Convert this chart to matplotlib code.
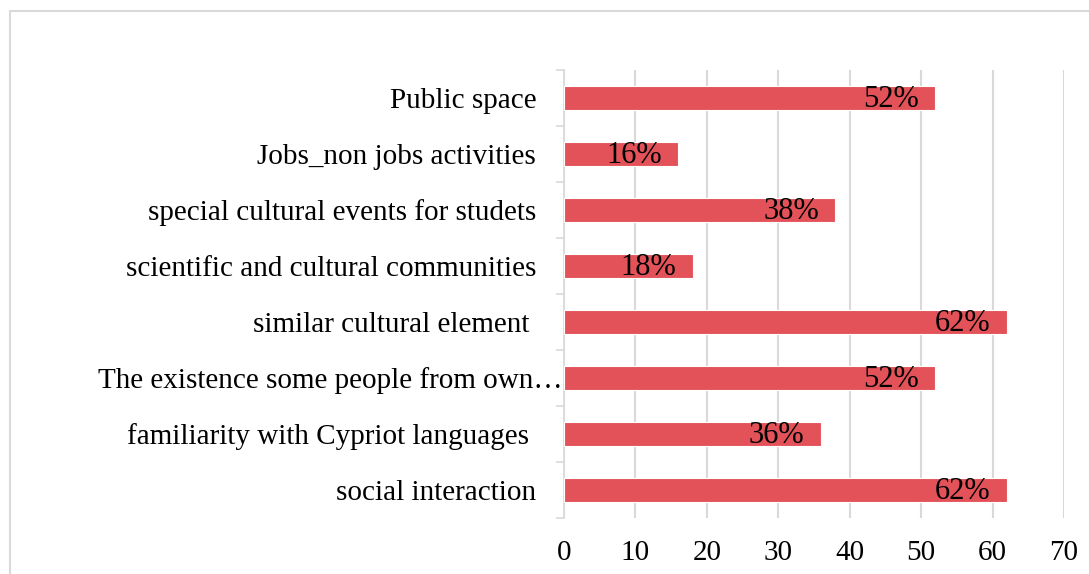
import numpy as np
import matplotlib.pyplot as plt
import matplotlib.transforms as mtransforms
from matplotlib.patches import Rectangle

plt.rcParams['font.family'] = ['Liberation Serif', 'DejaVu Serif']

# factors, top to bottom
factors = ["Public space",
           "Jobs_non jobs activities",
           "special cultural events for studets",
           "scientific and cultural communities",
           "similar cultural element ",
           "The existence some people from own\u2026",
           "familiarity with Cypriot languages ",
           "social interaction"]
shares = [52, 16, 38, 18, 62, 52, 36, 62]
xticks = [0, 10, 20, 30, 40, 50, 60, 70]

bar_color = '#E35259'
grid_color = '#D9D9D9'

fig = plt.figure(figsize=(10.89, 5.74), dpi=100)
# light frame around the chart area
fig.patches.append(Rectangle((10 / 1089, -0.1), 1.2, 1.1 - 11 / 574, transform=fig.transFigure,
                             fill=False, edgecolor=grid_color, linewidth=1.5))

ax = fig.add_axes([564 / 1089, 1 - 518 / 574, 500 / 1089, 448 / 574])

n = len(factors)
ypos = np.arange(n)[::-1]
ax.barh(ypos, shares, height=0.43, color=bar_color, edgecolor='white', linewidth=0.8, zorder=3)

for y, v in zip(ypos, shares):
    ax.annotate(f"{v}%", xy=(v, y), xytext=(-12, -1), textcoords='offset points',
                ha='right', va='center', fontsize=22, color='black', zorder=4)

ax.set_xlim(0, 70)
ax.set_ylim(-0.5, n - 0.5)
ax.set_xticks(xticks)
ax.set_xticklabels([str(t) for t in xticks])
ax.tick_params(axis='x', length=0, pad=16, labelsize=21)

ax.set_yticks(ypos)
ax.set_yticklabels(factors)
ax.set_yticks(np.arange(-0.5, n, 1.0), minor=True)
ax.tick_params(axis='y', which='major', length=0, pad=20, labelsize=21)
ax.tick_params(axis='y', which='minor', length=6, width=1.2, color=grid_color)

# the truncated label runs right up to the axis
for lbl in ax.get_yticklabels():
    if lbl.get_text().endswith('\u2026'):
        lbl.set_transform(lbl.get_transform() +
                          mtransforms.ScaledTranslation(26 / 100, 0, fig.dpi_scale_trans))

ax.grid(axis='x', color=grid_color, linewidth=1.5, zorder=0)
for s in ['top', 'right', 'bottom']:
    ax.spines[s].set_visible(False)
ax.spines['left'].set_color(grid_color)
ax.spines['left'].set_linewidth(1.2)

fig.savefig('out.png', dpi=100)
